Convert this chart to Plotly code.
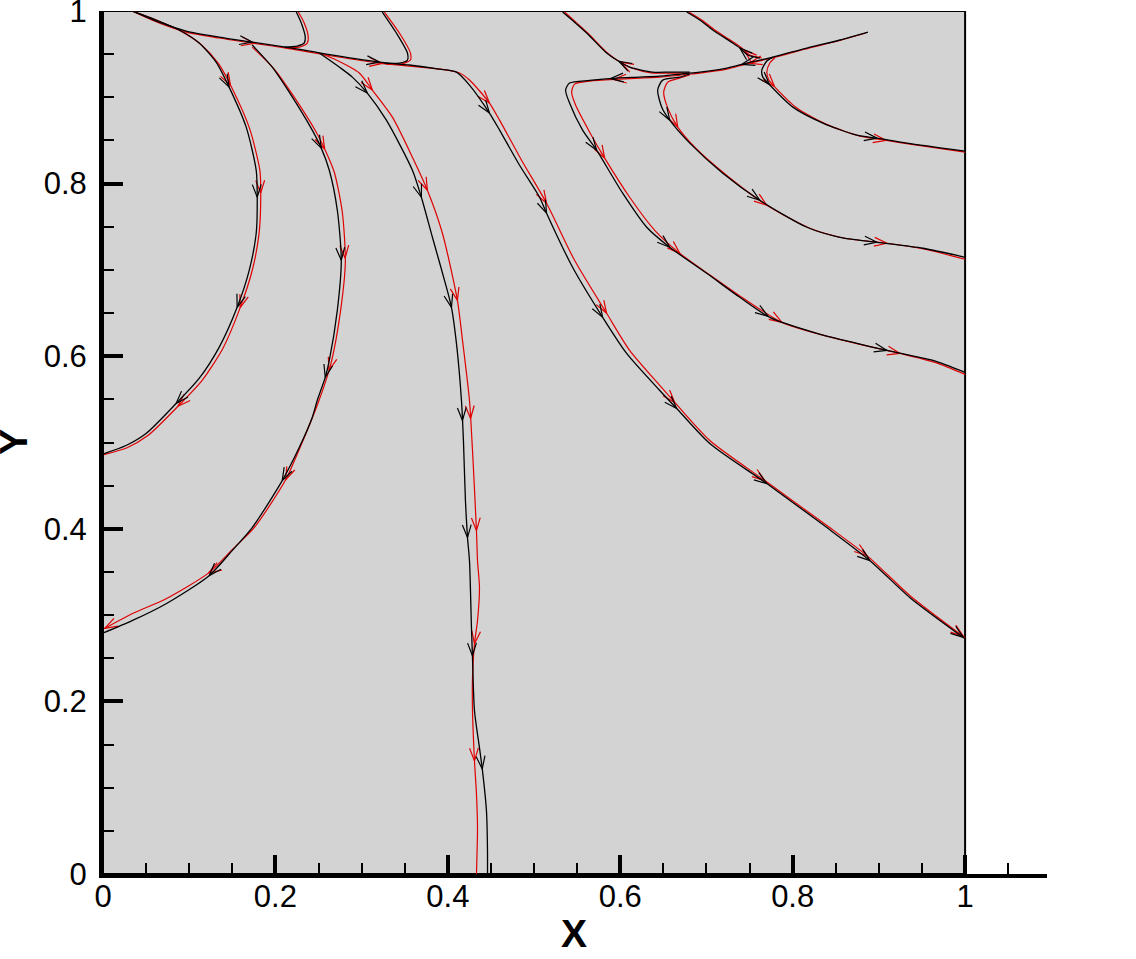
import math
import plotly.graph_objects as go

# ---------------- data ----------------
X_TICKS = [0, 0.2, 0.4, 0.6, 0.8, 1.0]
X_TICK_TEXT = ["0", "0.2", "0.4", "0.6", "0.8", "1"]
Y_TICKS = [0, 0.2, 0.4, 0.6, 0.8, 1.0]
Y_TICK_TEXT = ["0", "0.2", "0.4", "0.6", "0.8", "1"]
X_MAX = 1.095

# streamline A (top-left arc to the left wall)
black_A = [(0.0337, 1.0), (0.0616, 0.9896), (0.0883, 0.978), (0.1115, 0.963), (0.1312, 0.9408),
           (0.1463, 0.9118), (0.1661, 0.8654), (0.1777, 0.8155), (0.1789, 0.7842), (0.1777, 0.7425),
           (0.1696, 0.6995), (0.1556, 0.6566), (0.1347, 0.6102), (0.1115, 0.5742), (0.0848, 0.5452),
           (0.0499, 0.5104), (0.0267, 0.4965), (0.0012, 0.4872)]
red_A = [(0.034, 1.0), (0.063, 0.989), (0.090, 0.977), (0.114, 0.961), (0.134, 0.939),
         (0.150, 0.910), (0.170, 0.864), (0.182, 0.815), (0.183, 0.784), (0.181, 0.742),
         (0.173, 0.699), (0.159, 0.656), (0.139, 0.609), (0.115, 0.572), (0.088, 0.543),
         (0.052, 0.508), (0.028, 0.494), (0.001, 0.486)]
black_A_arrows = [(0.1463, 0.9118), (0.1789, 0.7842), (0.1556, 0.6566), (0.0848, 0.5452)]
red_A_arrows = [(0.1487, 0.9142), (0.1812, 0.7889), (0.158, 0.6566), (0.0883, 0.5406)]

# streamline T/F (top line then long diagonal to the right wall)
black_TF = [(0.0337, 1.0), (0.065, 0.987), (0.0964, 0.9768), (0.1347, 0.9698), (0.1731, 0.964),
            (0.2195, 0.957), (0.259, 0.950), (0.3206, 0.9408), (0.3554, 0.9374), (0.3902, 0.9327),
            (0.41, 0.9292), (0.4251, 0.9142), (0.4483, 0.8817), (0.46, 0.862), (0.4832, 0.8213),
            (0.5064, 0.7842), (0.5145, 0.7657), (0.5447, 0.703), (0.5796, 0.645), (0.6074, 0.6032),
            (0.6458, 0.5603), (0.6655, 0.5394), (0.7038, 0.4988), (0.77, 0.4524), (0.8397, 0.4014),
            (0.8897, 0.3631), (0.9361, 0.3202), (1.0, 0.2726)]
red_TF = [(0.0337, 1.0), (0.065, 0.9861), (0.0964, 0.9756), (0.1347, 0.9687), (0.1731, 0.9629),
          (0.2195, 0.9559), (0.259, 0.949), (0.3206, 0.9397), (0.3554, 0.9362), (0.3902, 0.9327),
          (0.4135, 0.9281), (0.4251, 0.92), (0.4483, 0.8933), (0.46, 0.8735), (0.4855, 0.8271),
          (0.5145, 0.7773), (0.547, 0.7111), (0.5842, 0.6497), (0.6109, 0.6067), (0.6458, 0.5661),
          (0.6632, 0.5464), (0.7038, 0.5023), (0.7677, 0.4559), (0.8397, 0.4037), (0.8862, 0.3689),
          (0.9361, 0.3225), (1.0, 0.2738)]
black_TF_arrows = [(0.1731, 0.964), (0.3206, 0.9408), (0.4483, 0.8817), (0.5145, 0.7657),
                   (0.5796, 0.645), (0.6655, 0.5394), (0.77, 0.4524), (0.8897, 0.3631), (0.9977, 0.2738)]
red_TF_arrows = [(0.1754, 0.9629), (0.324, 0.9397), (0.4483, 0.8933), (0.5145, 0.7773),
                 (0.5842, 0.6497), (0.6632, 0.5464), (0.7677, 0.4559), (0.8862, 0.3689), (0.9977, 0.275)]

# streamline C (second arc to the left wall)
black_C = [(0.1731, 0.9606), (0.1963, 0.935), (0.216, 0.906), (0.2427, 0.862), (0.2532, 0.8411),
           (0.2625, 0.8155), (0.2718, 0.7691), (0.2764, 0.7111), (0.2718, 0.6531), (0.2625, 0.5951),
           (0.2578, 0.5754), (0.2485, 0.5487), (0.2427, 0.529), (0.2276, 0.4942), (0.2079, 0.4559),
           (0.1731, 0.4014), (0.1498, 0.3747), (0.1231, 0.3457), (0.0732, 0.3132), (0.0337, 0.2935),
           (0.0012, 0.2796)]
red_C = [(0.1731, 0.9582), (0.1986, 0.9327), (0.2195, 0.9037), (0.2474, 0.8596), (0.2578, 0.8387),
         (0.2683, 0.8132), (0.2776, 0.7668), (0.2811, 0.7088), (0.2753, 0.6508), (0.2648, 0.5928),
         (0.259, 0.5731), (0.2497, 0.5464), (0.2416, 0.5255), (0.2276, 0.4919), (0.2114, 0.4559),
         (0.1754, 0.4014), (0.151, 0.377), (0.1231, 0.3492), (0.0732, 0.319), (0.0337, 0.3016),
         (0.0012, 0.2842)]
black_C_arrows = [(0.2532, 0.8411), (0.2764, 0.7111), (0.2578, 0.5754), (0.2079, 0.4559), (0.1231, 0.3457)]
red_C_arrows = [(0.2567, 0.8399), (0.2799, 0.7135), (0.2625, 0.5835), (0.2137, 0.4559),
                (0.1208, 0.3515), (0.0023, 0.2842)]

# streamline E (near-vertical line to the bottom wall)
black_E = [(0.2509, 0.9513), (0.2741, 0.935), (0.2892, 0.9234), (0.3066, 0.9049), (0.3287, 0.8735),
           (0.3589, 0.8155), (0.3693, 0.7842), (0.3821, 0.7378), (0.3984, 0.6798), (0.4042, 0.6566),
           (0.41, 0.6148), (0.4158, 0.5487), (0.4181, 0.5023), (0.4204, 0.4327), (0.4228, 0.3898),
           (0.4251, 0.3631), (0.4274, 0.2854), (0.4286, 0.2506), (0.4309, 0.1891), (0.4367, 0.1462),
           (0.4402, 0.1195), (0.4448, 0.0731), (0.446, 0.0267), (0.446, 0.0)]
red_E = [(0.2567, 0.949), (0.2706, 0.9432), (0.2973, 0.9281), (0.3124, 0.9084), (0.3357, 0.877),
         (0.3589, 0.8306), (0.3763, 0.7923), (0.3937, 0.7425), (0.4111, 0.6647), (0.417, 0.6183),
         (0.4251, 0.5487), (0.4286, 0.4907), (0.4332, 0.3979), (0.4344, 0.3631), (0.4367, 0.3318),
         (0.4344, 0.2935), (0.4309, 0.2668), (0.4286, 0.2274), (0.4286, 0.1891), (0.4309, 0.1311),
         (0.4332, 0.0928), (0.4344, 0.0534), (0.4332, 0.0)]
black_E_arrows = [(0.3066, 0.9049), (0.3693, 0.7842), (0.4042, 0.6566), (0.4158, 0.5255),
                  (0.4216, 0.3898), (0.4286, 0.2529), (0.4402, 0.1218)]
red_E_arrows = [(0.3124, 0.9084), (0.3763, 0.7923), (0.4111, 0.6647), (0.4263, 0.5278),
                (0.4332, 0.3979), (0.4309, 0.2668), (0.4309, 0.1311)]

# hooks touching the top wall
black_J1 = [(0.2102, 0.9582), (0.2253, 0.9594), (0.2334, 0.9629), (0.2346, 0.9698), (0.23, 0.9861), (0.2242, 0.9988)]
red_J1 = [(0.2125, 0.957), (0.2276, 0.9582), (0.2369, 0.9629), (0.2381, 0.9698), (0.2334, 0.9861), (0.2265, 0.9988)]
black_J2 = [(0.3264, 0.9397), (0.3438, 0.9397), (0.3531, 0.9432), (0.3531, 0.9513), (0.3403, 0.9745), (0.324, 0.9988)]
red_J2 = [(0.3287, 0.9385), (0.3461, 0.9385), (0.3566, 0.9432), (0.3566, 0.9513), (0.3438, 0.9745), (0.3264, 0.9988)]

# right-hand group
black_U = [(0.8873, 0.9756), (0.8548, 0.9664), (0.8165, 0.9571), (0.777, 0.9466), (0.7468, 0.9397),
           (0.7236, 0.9339), (0.6922, 0.9292), (0.6806, 0.9281)]
red_U = [(0.885, 0.9745), (0.8525, 0.9652), (0.8142, 0.9559), (0.7758, 0.9455), (0.7456, 0.9385),
         (0.7236, 0.9327), (0.6922, 0.9281), (0.6806, 0.927)]
black_U_arrows = [(0.741, 0.9385)]
red_U_arrows = [(0.75, 0.938)]

black_R1 = [(0.6806, 0.9292), (0.6574, 0.9292), (0.6376, 0.9292), (0.6109, 0.935), (0.5958, 0.9432),
            (0.5842, 0.9513), (0.561, 0.9745), (0.547, 0.987), (0.5331, 0.9988)]
red_R1 = [(0.6806, 0.9281), (0.6574, 0.9281), (0.6376, 0.9281), (0.6132, 0.9339), (0.5981, 0.942),
          (0.5865, 0.9501), (0.5633, 0.9733), (0.5494, 0.9861), (0.5354, 0.9988)]
black_R1_arrows = [(0.598, 0.941)]
red_R1_arrows = [(0.6005, 0.9408)]

black_R2 = [(0.7619, 0.9455), (0.748, 0.949), (0.7387, 0.9571), (0.7305, 0.9629), (0.7073, 0.978),
            (0.6922, 0.9896), (0.6771, 0.9988)]
red_R2 = [(0.7642, 0.9455), (0.7503, 0.949), (0.741, 0.9571), (0.7329, 0.9629), (0.7096, 0.978),
          (0.6945, 0.9896), (0.6794, 0.9988)]
black_R2_arrows = [(0.7387, 0.9571)]
red_R2_arrows = [(0.7468, 0.9582)]

black_H1 = [(0.6806, 0.9281), (0.6458, 0.9246), (0.6225, 0.9234), (0.5958, 0.9223), (0.5645, 0.9196),
            (0.5412, 0.9165), (0.5366, 0.9084), (0.5412, 0.8933), (0.5563, 0.8619), (0.5726, 0.8387),
            (0.6028, 0.7889), (0.6307, 0.7494), (0.6574, 0.7262), (0.7003, 0.6961), (0.7387, 0.6682),
            (0.7735, 0.645), (0.8281, 0.6265), (0.8746, 0.6148), (0.9094, 0.6067), (0.9628, 0.5951),
            (1.0, 0.5812)]
red_H1 = [(0.6806, 0.927), (0.6458, 0.9234), (0.5993, 0.9211), (0.5645, 0.9188), (0.547, 0.9153),
          (0.5436, 0.9061), (0.5482, 0.891), (0.5645, 0.8596), (0.5819, 0.8295), (0.6109, 0.7842),
          (0.64, 0.7459), (0.669, 0.7192), (0.7062, 0.6926), (0.7445, 0.6659), (0.7875, 0.6392),
          (0.8316, 0.6253), (0.878, 0.6137), (0.9245, 0.6032), (0.9652, 0.5928), (1.0, 0.5789)]
black_H1_arrows = [(0.5889, 0.9211), (0.5726, 0.8387), (0.6574, 0.7262), (0.7712, 0.6462), (0.9094, 0.6067)]
red_H1_arrows = [(0.5923, 0.9199), (0.5819, 0.8295), (0.669, 0.7192), (0.7875, 0.6392), (0.9245, 0.6032)]

black_H2 = [(0.6806, 0.927), (0.669, 0.9234), (0.6492, 0.9199), (0.6434, 0.9084), (0.6481, 0.8886),
            (0.6574, 0.8735), (0.6806, 0.8469), (0.7189, 0.8121), (0.7619, 0.7807), (0.8165, 0.7494),
            (0.8548, 0.7378), (0.8978, 0.732), (0.9512, 0.7251), (1.0, 0.7146)]
red_H2 = [(0.6806, 0.9258), (0.669, 0.9223), (0.6551, 0.9176), (0.6504, 0.9061), (0.6551, 0.8875),
          (0.6667, 0.8655), (0.6864, 0.8422), (0.7247, 0.8086), (0.77, 0.7749), (0.82, 0.7483),
          (0.8606, 0.7367), (0.9094, 0.7309), (0.9535, 0.7239), (1.0, 0.7123)]
black_H2_arrows = [(0.6574, 0.8735), (0.7619, 0.7807), (0.8978, 0.732)]
red_H2_arrows = [(0.6667, 0.8655), (0.77, 0.7749), (0.9094, 0.7309)]

black_H3 = [(0.777, 0.9466), (0.77, 0.942), (0.7642, 0.9316), (0.7654, 0.9234), (0.7735, 0.9142),
            (0.8002, 0.8886), (0.8351, 0.8701), (0.8746, 0.8561), (0.8978, 0.8527), (0.9326, 0.8469),
            (1.0, 0.8376)]
red_H3 = [(0.7793, 0.9455), (0.7735, 0.9397), (0.77, 0.9292), (0.7724, 0.92), (0.7805, 0.9107),
          (0.8049, 0.8875), (0.8386, 0.8689), (0.878, 0.855), (0.9071, 0.8503), (0.9361, 0.8457),
          (1.0, 0.8364)]
black_H3_arrows = [(0.7735, 0.9153), (0.8978, 0.8527)]
red_H3_arrows = [(0.7793, 0.913), (0.9082, 0.8503)]

# ---------------- layout geometry ----------------
W, H = 1136, 959
ML, MR, MT, MB = 103, 89, 11, 85
SX = (W - ML - MR) / X_MAX
SY = (H - MT - MB) / 1.0

BLACK = "#000000"
RED = "#e00000"

red_set = [
    (red_A, red_A_arrows), (red_TF, red_TF_arrows), (red_C, red_C_arrows), (red_E, red_E_arrows),
    (red_J1, []), (red_J2, []), (red_U, red_U_arrows), (red_R1, red_R1_arrows), (red_R2, red_R2_arrows),
    (red_H1, red_H1_arrows), (red_H2, red_H2_arrows), (red_H3, red_H3_arrows),
]
black_set = [
    (black_A, black_A_arrows), (black_TF, black_TF_arrows), (black_C, black_C_arrows),
    (black_E, black_E_arrows), (black_J1, []), (black_J2, []), (black_U, black_U_arrows),
    (black_R1, black_R1_arrows), (black_R2, black_R2_arrows), (black_H1, black_H1_arrows),
    (black_H2, black_H2_arrows), (black_H3, black_H3_arrows),
]


def chevron(curve, pt, length=13.5, half_angle=19.0):
    best = None
    for i in range(len(curve) - 1):
        (x0, y0), (x1, y1) = curve[i], curve[i + 1]
        dx, dy = (x1 - x0) * SX, (y1 - y0) * SY
        seg2 = dx * dx + dy * dy
        px, py = (pt[0] - x0) * SX, (pt[1] - y0) * SY
        t = max(0.0, min(1.0, (px * dx + py * dy) / seg2)) if seg2 > 0 else 0.0
        ex, ey = px - t * dx, py - t * dy
        d = ex * ex + ey * ey
        if best is None or d < best[0]:
            best = (d, dx, dy, x0 + t * (x1 - x0), y0 + t * (y1 - y0))
    _, dx, dy, tx, ty = best
    n = math.hypot(dx, dy)
    ux, uy = dx / n, dy / n
    xs, ys = [], []
    for s in (1, -1):
        a = math.radians(half_angle) * s
        rx = ux * math.cos(a) - uy * math.sin(a)
        ry = ux * math.sin(a) + uy * math.cos(a)
        xs.append(tx - length * rx / SX)
        ys.append(ty - length * ry / SY)
    return [xs[0], tx, xs[1], None], [ys[0], ty, ys[1], None]


fig = go.Figure()


def add_group(group, color, width):
    ax, ay = [], []
    for curve, arrows in group:
        fig.add_trace(go.Scatter(x=[p[0] for p in curve], y=[p[1] for p in curve], mode="lines",
                                 line=dict(color=color, width=width, shape="spline", smoothing=0.7),
                                 hoverinfo="skip", showlegend=False))
        for a in arrows:
            cx, cy = chevron(curve, a)
            ax += cx
            ay += cy
    fig.add_trace(go.Scatter(x=ax, y=ay, mode="lines", line=dict(color=color, width=1.2),
                             hoverinfo="skip", showlegend=False))


add_group(red_set, RED, 1.2)
add_group(black_set, BLACK, 1.3)

fig.add_shape(type="rect", xref="x", yref="y", x0=0, x1=1, y0=0, y1=1,
              fillcolor="#d3d3d3", line=dict(color="black", width=2), layer="below")

FONT = "Arial, Liberation Sans, Helvetica, sans-serif"

fig.update_xaxes(range=[0, X_MAX], showgrid=False, zeroline=False, automargin=False,
                 showline=True, linecolor="black", linewidth=4,
                 tickmode="array", tickvals=X_TICKS, ticktext=X_TICK_TEXT,
                 ticks="inside", ticklen=19, tickwidth=4, tickcolor="black",
                 ticklabelstandoff=-8, ticklabeloverflow="allow",
                 minor=dict(ticks="inside", ticklen=11, tickwidth=1.5, tickcolor="black",
                            dtick=0.05, tick0=0, showgrid=False),
                 tickfont=dict(family=FONT, size=31, color="black"))
fig.update_yaxes(range=[0, 1], showgrid=False, zeroline=False, automargin=False,
                 showline=True, linecolor="black", linewidth=4,
                 tickmode="array", tickvals=Y_TICKS, ticktext=Y_TICK_TEXT,
                 ticks="inside", ticklen=20, tickwidth=4, tickcolor="black",
                 ticklabelstandoff=6, ticklabeloverflow="allow",
                 minor=dict(ticks="inside", ticklen=11, tickwidth=1.5, tickcolor="black",
                            dtick=0.05, tick0=0, showgrid=False),
                 tickfont=dict(family=FONT, size=31, color="black"))

PW = W - ML - MR
PH = H - MT - MB
fig.add_annotation(text="<b>X</b>", xref="paper", yref="paper",
                   x=(574 - ML) / PW, y=((H - MB) - 933) / PH, showarrow=False,
                   xanchor="center", yanchor="middle",
                   font=dict(family=FONT, size=39, color="black"))
fig.add_annotation(text="<b>Y</b>", xref="paper", yref="paper", textangle=-90,
                   x=(13 - ML) / PW, y=((H - MB) - 442) / PH, showarrow=False,
                   xanchor="center", yanchor="middle",
                   font=dict(family=FONT, size=39, color="black"))

fig.update_layout(width=W, height=H, margin=dict(l=ML, r=MR, t=MT, b=MB, pad=0),
                  paper_bgcolor="white", plot_bgcolor="white", showlegend=False)

# place the figure at the page's top-left corner (no default body margin), no mode bar
fig.write_html("out.html", config={"displayModeBar": False},
               post_script="document.body.style.margin='0px';")
